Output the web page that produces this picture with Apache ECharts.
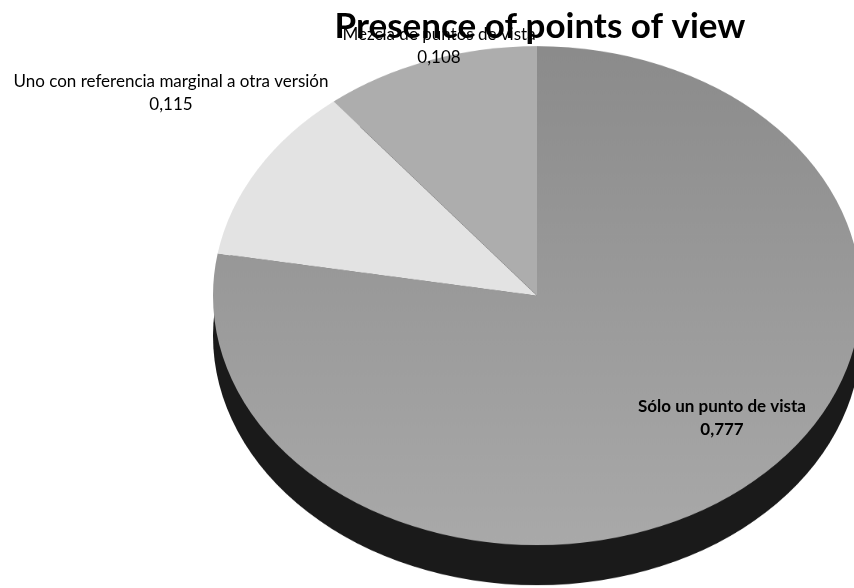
<!DOCTYPE html>
<html><head><meta charset="utf-8">
<script src="https://cdn.jsdelivr.net/npm/echarts@6/dist/echarts.min.js"></script>
<style>
html,body{margin:0;padding:0;width:854px;height:588px;overflow:hidden;background:#fff;}
#pie{position:absolute;left:0;top:0;width:854px;height:764px;transform:scaleY(0.77);transform-origin:0 0;}
#text{position:absolute;left:0;top:0;width:854px;height:588px;}
</style></head><body>
<div id="pie"></div><div id="text"></div>
<script>
const chartTitle = 'Presence of points of view';
const categories = ['Sólo un punto de vista', 'Uno con referencia marginal a otra versión', 'Mezcla de puntos de vista'];
const values = [0.777, 0.115, 0.108];

const sliceColors = [
  {type:'linear', x:0, y:0, x2:0, y2:1, colorStops:[{offset:0,color:'#8b8b8b'},{offset:1,color:'#a9a9a9'}]},
  '#e3e3e3',
  '#adadad'
];
const labelPos = [[722, 418], [171, 93], [439, 46]];
const labelBold = [true, false, false];

const pieData = categories.map((c, i) => ({name: c, value: values[i], itemStyle: {color: sliceColors[i]}}));

const pieChart = echarts.init(document.getElementById('pie'));
pieChart.setOption({
  animation: false,
  series: [
    {
      type: 'pie', silent: true, center: [537, 436], radius: 324,
      startAngle: 90, clockwise: true,
      label: {show: false}, labelLine: {show: false},
      data: [{name: 'depth', value: 1, itemStyle: {color: '#1a1a1a'}}]
    },
    {
      type: 'pie', silent: true, center: [537, 384], radius: 324,
      startAngle: 90, clockwise: true,
      label: {show: false}, labelLine: {show: false},
      itemStyle: {borderWidth: 0},
      data: pieData
    }
  ]
});

const textChart = echarts.init(document.getElementById('text'));
textChart.setOption({
  animation: false,
  title: {
    text: chartTitle, left: 535, top: 4, textAlign: 'center',
    textStyle: {fontFamily: 'Lato', fontWeight: 'bold', fontSize: 35, color: '#000'}
  },
  series: [{
    type: 'pie', silent: true, center: [537, 296], radius: 200,
    startAngle: 90, clockwise: true,
    itemStyle: {color: 'rgba(0,0,0,0)'},
    labelLine: {show: false},
    label: {
      show: true, position: 'outside', overflow: 'none',
      fontFamily: 'Lato', fontSize: 17, color: '#000', lineHeight: 23, align: 'center',
      formatter: p => p.name + '\n' + String(p.value).replace('.', ',')
    },
    labelLayout: p => ({x: labelPos[p.dataIndex][0], y: labelPos[p.dataIndex][1], align: 'center', verticalAlign: 'middle', width: 400}),
    data: categories.map((c, i) => ({name: c, value: values[i], label: {fontWeight: labelBold[i] ? 'bold' : 'normal'}}))
  }]
});
</script>
</body></html>
